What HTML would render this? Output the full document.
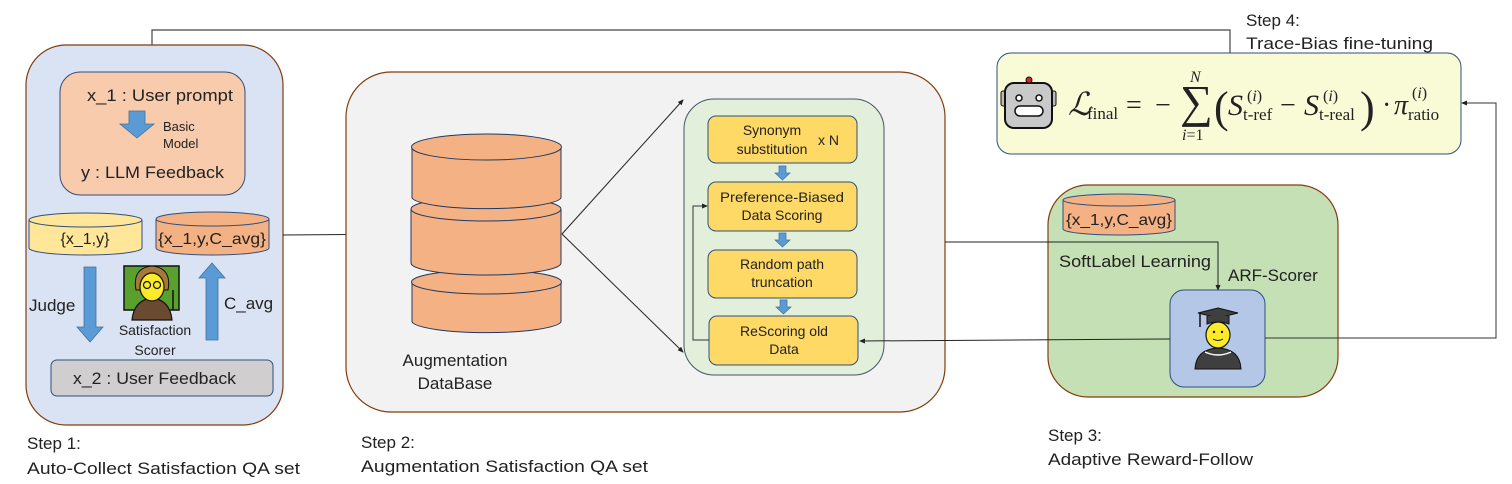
<!DOCTYPE html>
<html><head><meta charset="utf-8"><style>
html,body{margin:0;padding:0;background:#fff;}
svg{display:block;}
text{font-family:"Liberation Sans","Noto Sans CJK SC",sans-serif;fill:#222;}
.m{font-family:"Liberation Serif",serif;}
</style></head><body>
<svg width="1512" height="484" viewBox="0 0 1512 484" xmlns="http://www.w3.org/2000/svg">
<defs>
<marker id="ah" markerWidth="6" markerHeight="6" refX="5" refY="3" orient="auto" markerUnits="userSpaceOnUse"><path d="M0,0.5 L6,3 L0,5.5z" fill="#222"/></marker>
</defs>

<polyline points="1230,53 1230,30 152,30 152,71" fill="none" stroke="#444" stroke-width="1.2" marker-end="url(#ah)"/>

<!-- STEP 1 -->
<rect x="26" y="45" width="257" height="380" rx="40" fill="#dae3f3" stroke="#843c0c" stroke-width="1.2"/>
<rect x="60" y="72" width="185" height="123" rx="20" fill="#f8cbad" stroke="#2f4f7f" stroke-width="1"/>
<text x="87" y="101" font-size="17" textLength="146" lengthAdjust="spacingAndGlyphs">x_1 : User prompt</text>
<path d="M129,111 H145 V124 H154 L137,138 L120,124 H129 Z" fill="#5b9bd5" stroke="#41719c" stroke-width="0.8"/>
<text x="163" y="131" font-size="13">Basic</text>
<text x="163" y="148" font-size="13">Model</text>
<text x="81" y="178" font-size="17" textLength="143" lengthAdjust="spacingAndGlyphs">y : LLM Feedback</text>

<g stroke="#2f4f7f" stroke-width="1">
<path d="M29,220 V248 A56.5,7 0 0 0 142,248 V220" fill="#ffe699"/>
<ellipse cx="85.5" cy="220" rx="56.5" ry="7" fill="#ffe699"/>
<path d="M156,219 V248 A56.5,7 0 0 0 269,248 V219" fill="#f4b183"/>
<ellipse cx="212.5" cy="219" rx="56.5" ry="7" fill="#f4b183"/>
</g>
<text x="85" y="244" font-size="16" text-anchor="middle">{x_1,y}</text>
<text x="212" y="244" font-size="16" text-anchor="middle" textLength="108" lengthAdjust="spacingAndGlyphs">{x_1,y,C_avg}</text>

<path d="M84,267 H96 V327 H103 L90,342 L77,327 H84 Z" fill="#5b9bd5" stroke="#41719c" stroke-width="0.8"/>
<text x="29" y="311" font-size="17">Judge</text>
<path d="M206,340 H218 V278 H225 L212,263 L199,278 H206 Z" fill="#5b9bd5" stroke="#41719c" stroke-width="0.8"/>
<text x="224" y="309" font-size="17">C_avg</text>

<rect x="124" y="266" width="55" height="44" fill="#5aa02c" stroke="#111" stroke-width="1.5"/>
<path d="M132,320 Q134,300 152,298 Q170,300 172,320 Z" fill="#6b4a32" stroke="#111" stroke-width="1.2"/>
<path d="M136,290 Q132,268 152,266 Q172,268 168,290 Z" fill="#a57939" stroke="#111" stroke-width="1"/>
<ellipse cx="152" cy="287" rx="12" ry="14" fill="#fcea2b" stroke="#111" stroke-width="1.2"/>
<circle cx="147" cy="285" r="3.5" fill="none" stroke="#111" stroke-width="1.2"/>
<circle cx="157" cy="285" r="3.5" fill="none" stroke="#111" stroke-width="1.2"/>
<line x1="173" y1="290" x2="173" y2="310" stroke="#111" stroke-width="1.5"/>
<text x="155" y="335" font-size="14" text-anchor="middle">Satisfaction</text>
<text x="155" y="355" font-size="14" text-anchor="middle">Scorer</text>

<rect x="51" y="360" width="222" height="36" rx="6" fill="#d0cece" stroke="#2f4f7f" stroke-width="1"/>
<text x="73" y="384" font-size="17" textLength="163" lengthAdjust="spacingAndGlyphs">x_2 : User Feedback</text>

<text x="27" y="449" font-size="17">Step 1:</text>
<text x="27" y="474" font-size="17" textLength="273" lengthAdjust="spacingAndGlyphs">Auto-Collect Satisfaction  QA set</text>

<line x1="283" y1="235" x2="411" y2="234" stroke="#222" stroke-width="1" marker-end="url(#ah)"/>

<!-- STEP 2 -->
<rect x="346" y="72" width="599" height="340" rx="45" fill="#f2f2f2" stroke="#843c0c" stroke-width="1.2"/>
<g stroke="#1f3864" stroke-width="1" fill="#f4b183">
<path d="M412,282 V322 A75,12 0 0 0 561,322 V282"/>
<ellipse cx="486.5" cy="282" rx="75" ry="12"/>
<path d="M411,209 V263 A75,12 0 0 0 561,263 V209"/>
<ellipse cx="486" cy="209" rx="75" ry="12"/>
<path d="M412,147 V198 A75,12 0 0 0 561,198 V147"/>
<ellipse cx="486.5" cy="147" rx="75" ry="13"/>
</g>
<text x="455" y="366" font-size="17" text-anchor="middle">Augmentation</text>
<text x="455" y="389" font-size="17" text-anchor="middle">DataBase</text>
<line x1="562" y1="234" x2="683" y2="100" stroke="#222" stroke-width="1" marker-end="url(#ah)"/>
<line x1="562" y1="234" x2="683" y2="352" stroke="#222" stroke-width="1" marker-end="url(#ah)"/>

<rect x="684" y="99" width="200" height="276" rx="30" fill="#e2efda" stroke="#44546a" stroke-width="1"/>
<g fill="#ffd966" stroke="#2f4f7f" stroke-width="1">
<rect x="708" y="116" width="149" height="47" rx="8"/>
<rect x="708" y="182" width="149" height="49" rx="8"/>
<rect x="708" y="250" width="149" height="48" rx="8"/>
<rect x="709" y="316" width="149" height="49" rx="8"/>
</g>
<g fill="#5b9bd5" stroke="#41719c" stroke-width="0.7">
<path d="M779,166 H786 V173 H790 L782.5,180 L775,173 H779 Z"/>
<path d="M779,233 H786 V240 H790 L782.5,247 L775,240 H779 Z"/>
<path d="M780,300 H787 V307 H791 L783.5,314 L776,307 H780 Z"/>
</g>
<text x="772" y="135" font-size="14" text-anchor="middle">Synonym</text>
<text x="772" y="154" font-size="14" text-anchor="middle">substitution</text>
<text x="818" y="145" font-size="14">x N</text>
<text x="782" y="202" font-size="14" text-anchor="middle" textLength="124" lengthAdjust="spacingAndGlyphs">Preference-Biased</text>
<text x="782" y="220" font-size="14" text-anchor="middle">Data Scoring</text>
<text x="782" y="269" font-size="14" text-anchor="middle">Random path</text>
<text x="782" y="287" font-size="14" text-anchor="middle">truncation</text>
<text x="784" y="336" font-size="14" text-anchor="middle">ReScoring old</text>
<text x="784" y="354" font-size="14" text-anchor="middle">Data</text>
<polyline points="709,340 693,340 693,206 707,206" fill="none" stroke="#333" stroke-width="1" marker-end="url(#ah)"/>

<text x="361" y="448" font-size="17">Step 2:</text>
<text x="361" y="472" font-size="17" textLength="287" lengthAdjust="spacingAndGlyphs">Augmentation Satisfaction  QA set</text>

<!-- STEP 3 -->
<rect x="1048" y="185" width="290" height="212" rx="40" fill="#c5e0b4" stroke="#843c0c" stroke-width="1.2"/>
<g stroke="#2f4f7f" stroke-width="1" fill="#f4b183">
<path d="M1063,200 V229 A56,6 0 0 0 1175,229 V200"/>
<ellipse cx="1119" cy="200" rx="56" ry="6"/>
</g>
<text x="1119" y="225" font-size="16" text-anchor="middle" textLength="106" lengthAdjust="spacingAndGlyphs">{x_1,y,C_avg}</text>
<text x="1059" y="267" font-size="17" textLength="152" lengthAdjust="spacingAndGlyphs">SoftLabel Learning</text>
<text x="1228" y="281" font-size="17">ARF-Scorer</text>
<polyline points="945,242 1218,242 1218,290" fill="none" stroke="#222" stroke-width="1" marker-end="url(#ah)"/>
<rect x="1170" y="290" width="95" height="97" rx="14" fill="#b4c7e7" stroke="#2f4f7f" stroke-width="1"/>
<path d="M1195,369 Q1196,349 1218,348 Q1240,349 1241,369 Z" fill="#3f3f3f" stroke="#111" stroke-width="1"/>
<path d="M1205,352 Q1218,358 1231,352" fill="none" stroke="#fff" stroke-width="1.5"/>
<ellipse cx="1218" cy="335" rx="12" ry="13" fill="#fcea2b" stroke="#111" stroke-width="1.2"/>
<circle cx="1214" cy="332" r="1.2" fill="#111"/><circle cx="1222" cy="332" r="1.2" fill="#111"/>
<path d="M1213,339 Q1218,342 1223,339" fill="none" stroke="#111" stroke-width="1"/>
<path d="M1198,313 L1218,308 L1238,313 L1218,318 Z" fill="#3f3f3f" stroke="#111" stroke-width="1"/>
<path d="M1207,316 V324 Q1218,320 1229,324 V316" fill="#3f3f3f" stroke="#111" stroke-width="1"/>
<line x1="1200" y1="314" x2="1200" y2="327" stroke="#111" stroke-width="1.5"/>
<line x1="1170" y1="339" x2="860" y2="341" stroke="#222" stroke-width="1" marker-end="url(#ah)"/>
<polyline points="1265,338 1496,338 1496,103 1462,103" fill="none" stroke="#333" stroke-width="1" marker-end="url(#ah)"/>

<text x="1048" y="441" font-size="17">Step 3:</text>
<text x="1048" y="465" font-size="17" textLength="205" lengthAdjust="spacingAndGlyphs">Adaptive Reward-Follow</text>

<!-- STEP 4 -->
<text x="1246" y="26" font-size="17">Step 4:</text>
<text x="1246" y="49" font-size="17" textLength="187" lengthAdjust="spacingAndGlyphs">Trace-Bias fine-tuning</text>
<rect x="997" y="53" width="464" height="101" rx="14" fill="#f8fbd6" stroke="#2f4f7f" stroke-width="1"/>
<rect x="1001" y="91" width="5" height="15" rx="2" fill="#bbb" stroke="#111"/>
<rect x="1051" y="91" width="5" height="15" rx="2" fill="#bbb" stroke="#111"/>
<rect x="1005" y="83" width="47" height="45" rx="9" fill="#c9c9c9" stroke="#111" stroke-width="2"/>
<circle cx="1029" cy="80" r="3" fill="#d22" stroke="#111"/>
<circle cx="1019" cy="98" r="3" fill="#fff" stroke="#111" stroke-width="1.5"/>
<circle cx="1039" cy="98" r="3" fill="#fff" stroke="#111" stroke-width="1.5"/>
<rect x="1015" y="106" width="28" height="10" rx="5" fill="#fff" stroke="#111" stroke-width="1.5"/>
<g>
<text x="1068" y="115" font-size="32" font-style="italic" class="m">ℒ</text>
<text x="1087" y="119" font-size="17" class="m">final</text>
<text x="1126" y="114" font-size="28" class="m">=</text>
<text x="1155" y="114" font-size="28" class="m">−</text>
<text x="1180" y="117" font-size="46" class="m">∑</text>
<text x="1190" y="82" font-size="16" font-style="italic" class="m">N</text>
<text x="1182" y="140" font-size="16" class="m"><tspan font-style="italic">i</tspan>=1</text>
<text x="1214" y="122" font-size="44" class="m">(</text>
<text x="1228" y="115" font-size="30" font-style="italic" class="m">S</text>
<text x="1247" y="101" font-size="16" class="m">(<tspan font-style="italic">i</tspan>)</text>
<text x="1243" y="120" font-size="17" class="m">t-ref</text>
<text x="1280" y="114" font-size="28" class="m">−</text>
<text x="1304" y="115" font-size="30" font-style="italic" class="m">S</text>
<text x="1323" y="101" font-size="16" class="m">(<tspan font-style="italic">i</tspan>)</text>
<text x="1319" y="120" font-size="17" class="m">t-real</text>
<text x="1360" y="122" font-size="44" class="m">)</text>
<text x="1382" y="114" font-size="28" class="m">·</text>
<text x="1394" y="114" font-size="28" font-style="italic" class="m">π</text>
<text x="1412" y="98" font-size="16" class="m">(<tspan font-style="italic">i</tspan>)</text>
<text x="1408" y="120" font-size="17" class="m">ratio</text>
</g>
</svg>
</body></html>
